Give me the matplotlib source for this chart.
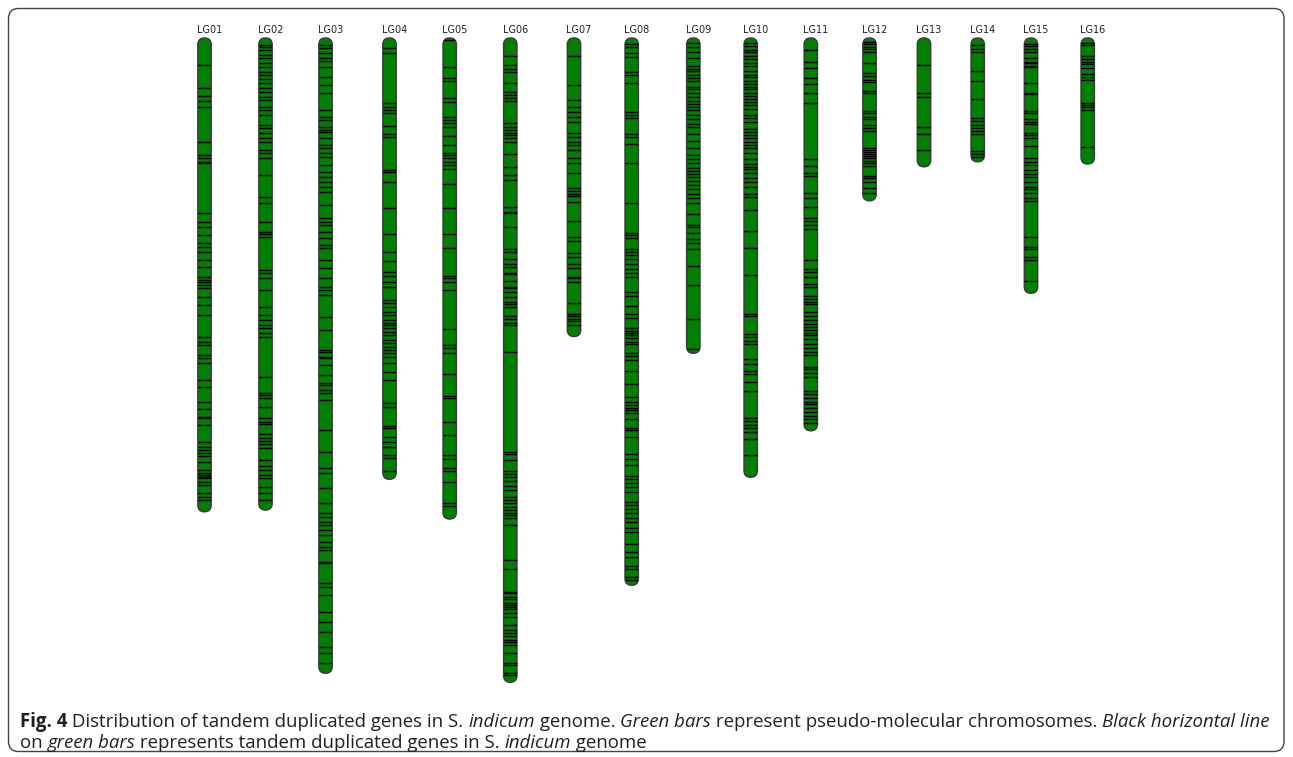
"""
Tandem duplicated gene map for the 16 S. indicum linkage groups.
Green bars = chromosomes, black ticks = tandem duplicated genes.
Output: out.png
"""

import matplotlib
matplotlib.use("Agg")
import matplotlib.pyplot as plt
from matplotlib.patches import FancyBboxPatch

# ---- data (positions in Mb) ----
chromosomes = ["LG01", "LG02", "LG03", "LG04", "LG05", "LG06", "LG07", "LG08",
               "LG09", "LG10", "LG11", "LG12", "LG13", "LG14", "LG15", "LG16"]

chrom_length_mb = [18.95, 18.88, 25.41, 17.65, 19.24, 25.77, 11.94, 21.89,
                   12.61, 17.57, 15.71, 6.51, 5.15, 4.95, 10.21, 5.04]

lg01_genes = [1.08, 2.01, 2.32, 2.52, 2.75, 4.15, 4.68, 4.81, 4.95, 5.01, 7.01, 7.35,
              7.55, 7.88, 8.21, 8.35, 8.55, 8.88, 9.15, 9.55, 9.68, 9.75, 9.88, 10.01,
              10.35, 10.68, 11.08, 11.95, 12.15, 12.28, 12.68, 12.81, 13.01, 13.68,
              13.95, 14.55, 14.85, 15.15, 15.21, 15.48, 16.15, 16.35, 16.48, 16.61,
              16.72, 16.95, 17.28, 17.39, 17.48, 17.55, 17.61, 17.75, 17.88, 18.21,
              18.35, 18.48]
lg02_genes = [0.28, 0.35, 0.48, 0.68, 0.81, 1.01, 1.15, 1.35, 1.48, 1.65, 1.81, 2.01,
              2.15, 2.35, 2.48, 2.75, 2.88, 3.08, 3.48, 3.61, 3.81, 4.01, 4.15, 4.48,
              4.61, 4.81, 5.48, 6.35, 6.61, 7.35, 7.75, 7.84, 7.95, 9.28, 9.41, 9.61,
              10.08, 10.75, 11.08, 11.28, 11.48, 11.61, 11.81, 11.95, 13.55, 14.19,
              14.28, 14.41, 14.75, 15.21, 15.35, 15.44, 15.84, 16.01, 16.11, 16.24,
              16.41, 16.88, 17.12, 17.28, 17.48, 17.61, 17.95, 18.21, 18.48]
lg03_genes = [0.28, 0.41, 0.61, 0.81, 0.91, 1.15, 1.55, 1.88, 2.21, 2.88, 3.15, 3.28,
              3.55, 3.68, 3.75, 4.01, 4.28, 4.41, 4.61, 4.75, 5.08, 5.35, 5.55, 5.75,
              5.95, 6.15, 6.68, 7.21, 7.35, 7.48, 7.75, 8.01, 8.28, 8.41, 8.88, 9.21,
              9.61, 9.95, 10.08, 10.28, 11.15, 11.68, 12.48, 12.55, 12.75, 12.81,
              13.08, 13.48, 13.81, 13.88, 14.08, 14.21, 14.48, 15.68, 16.55, 17.21,
              17.41, 18.01, 18.61, 19.01, 19.15, 19.35, 19.48, 19.68, 19.88, 20.15,
              20.37, 20.48, 20.95, 21.01, 21.81, 21.95, 22.28, 22.95, 23.35, 23.75,
              24.35, 24.61, 25.01]
lg04_genes = [0.41, 0.61, 2.61, 2.77, 2.88, 3.01, 3.52, 3.84, 3.97, 5.28, 5.35, 5.75,
              6.81, 7.84, 8.55, 8.91, 9.35, 9.52, 9.75, 9.97, 10.48, 10.61, 10.77,
              10.95, 11.08, 11.28, 11.39, 11.48, 11.61, 11.75, 11.88, 12.08, 12.21,
              12.35, 12.48, 12.61, 12.75, 13.01, 13.35, 13.68, 14.59, 14.75, 15.52,
              15.61, 15.97, 16.15, 16.37, 16.68, 16.81, 17.31]
lg05_genes = [0.08, 1.15, 1.59, 1.71, 2.41, 2.55, 3.15, 3.28, 3.41, 3.55, 3.92, 4.28,
              4.59, 4.68, 4.81, 4.95, 5.08, 5.25, 5.84, 6.79, 7.84, 8.39, 9.52, 9.61,
              9.75, 10.08, 11.64, 12.28, 12.41, 12.59, 13.44, 14.32, 14.39, 15.35,
              15.88, 16.68, 16.85, 17.21, 17.31, 17.75, 18.61, 18.71]
lg06_genes = [0.72, 1.08, 1.25, 1.35, 1.81, 2.15, 2.28, 2.41, 2.51, 3.39, 3.55, 3.68,
              3.81, 3.88, 4.01, 4.15, 4.64, 5.15, 5.48, 5.68, 6.77, 6.95, 7.01, 7.57,
              8.45, 8.55, 8.85, 9.04, 9.17, 9.39, 9.44, 9.71, 9.95, 10.01, 10.15,
              10.35, 10.55, 10.64, 10.75, 11.12, 11.25, 11.41, 11.48, 12.55, 16.55,
              16.64, 16.88, 17.31, 17.44, 17.55, 17.71, 17.92, 18.08, 18.35, 18.48,
              18.61, 18.75, 18.88, 18.99, 19.08, 19.21, 19.48, 20.88, 21.25, 22.15,
              22.21, 22.37, 22.45, 22.59, 22.68, 22.77, 22.85, 23.01, 23.15, 23.48,
              23.68, 23.79, 23.92, 24.08, 24.15, 24.28, 24.61, 25.01, 25.08, 25.41,
              25.48]
lg07_genes = [0.71, 1.89, 2.47, 2.75, 2.97, 3.14, 3.37, 3.79, 3.97, 4.14, 4.28, 4.47,
              4.79, 4.99, 5.39, 5.99, 6.11, 6.22, 6.32, 6.54, 7.32, 7.97, 8.11, 8.61,
              8.75, 9.04, 9.18, 9.54, 9.61, 9.75, 10.61, 11.04, 11.11, 11.22, 11.32,
              11.47]
lg08_genes = [0.22, 0.37, 0.61, 0.75, 1.37, 1.47, 1.79, 2.97, 3.09, 3.19, 3.82, 3.94,
              4.22, 4.99, 6.61, 7.79, 7.89, 7.99, 8.42, 8.57, 8.68, 8.82, 9.04, 9.22,
              9.39, 9.57, 10.14, 10.32, 10.71, 11.04, 11.18, 11.61, 11.71, 11.79,
              11.89, 11.99, 12.14, 12.25, 12.61, 12.71, 12.89, 13.32, 13.82, 14.37,
              14.54, 14.68, 14.79, 14.89, 14.99, 15.25, 15.61, 15.68, 15.94, 16.65,
              16.82, 17.08, 17.51, 17.65, 17.79, 17.97, 18.14, 18.57, 18.68, 18.82,
              18.99, 19.18, 19.37, 19.61, 19.75, 20.25, 20.54, 20.75, 21.11, 21.25,
              21.54, 21.68]
lg09_genes = [0.18, 0.37, 0.57, 0.79, 1.11, 1.22, 1.32, 1.47, 1.61, 1.71, 1.94, 2.04,
              2.18, 2.37, 2.51, 2.65, 2.75, 2.89, 3.08, 3.22, 3.42, 3.57, 3.82, 4.11,
              4.39, 4.68, 4.82, 4.99, 5.18, 5.32, 5.42, 5.54, 5.71, 5.89, 6.04, 6.22,
              6.39, 6.61, 7.04, 7.47, 7.54, 7.79, 8.04, 8.18, 8.42, 9.11, 9.89, 11.22,
              12.42]
lg10_genes = [0.18, 0.32, 0.47, 0.57, 0.71, 0.82, 0.99, 1.11, 1.32, 1.47, 1.54, 1.71,
              1.82, 1.94, 2.04, 2.18, 2.32, 2.42, 2.54, 2.68, 2.82, 3.08, 3.18, 3.37,
              3.65, 3.75, 3.89, 3.99, 4.14, 4.28, 4.39, 4.61, 4.85, 5.04, 5.14, 5.25,
              5.39, 5.61, 5.75, 5.97, 6.22, 6.37, 6.89, 7.71, 8.39, 9.47, 11.04, 11.11,
              11.82, 11.97, 12.11, 12.22, 12.82, 13.04, 13.32, 13.42, 13.75, 14.11,
              15.18, 15.32, 15.47, 15.61, 15.75, 16.04, 16.68]
lg11_genes = [0.47, 0.97, 1.18, 1.61, 1.82, 2.18, 2.61, 4.82, 5.11, 5.39, 5.51, 6.18,
              6.39, 6.75, 7.18, 7.32, 7.47, 7.65, 8.89, 9.22, 9.37, 9.54, 9.85, 9.97,
              10.32, 10.42, 10.54, 10.65, 10.97, 11.11, 11.28, 11.42, 11.57, 11.68,
              11.79, 11.89, 12.04, 12.22, 12.39, 12.54, 12.68, 13.14, 13.22, 13.39,
              13.57, 14.11, 14.25, 14.39, 14.54, 14.65, 14.79, 14.94, 15.11, 15.22,
              15.39]
lg12_genes = [0.15, 0.24, 0.35, 0.45, 0.55, 0.99, 1.39, 1.52, 1.68, 1.75, 2.11, 2.19,
              2.91, 3.01, 3.17, 3.25, 3.48, 3.61, 3.71, 4.41, 4.48, 4.55, 4.64, 4.72,
              4.81, 4.91, 5.01, 5.12, 5.52, 5.61, 5.75, 6.01, 6.19]
lg13_genes = [1.08, 2.19, 2.37, 3.55, 3.84, 4.48]
lg14_genes = [0.28, 0.45, 0.55, 1.31, 1.71, 2.45, 3.21, 3.31, 3.48, 3.61, 3.71, 3.84,
              4.51, 4.64, 4.77]
lg15_genes = [0.24, 0.32, 0.45, 0.55, 0.81, 0.95, 1.01, 1.12, 1.17, 1.79, 2.19, 2.24,
              2.91, 2.99, 3.25, 3.35, 3.44, 3.79, 3.88, 4.01, 4.32, 4.81, 4.95, 5.08,
              5.28, 5.44, 5.57, 5.75, 5.95, 6.05, 6.19, 6.41, 6.51, 7.97, 8.35, 8.45,
              8.77, 8.88, 9.71]
lg16_genes = [0.19, 0.28, 0.72, 0.85, 0.95, 1.04, 1.21, 1.44, 1.57, 1.68, 2.59, 2.68,
              2.77, 2.88, 4.35]

tandem_genes = [lg01_genes, lg02_genes, lg03_genes, lg04_genes, lg05_genes, lg06_genes,
                lg07_genes, lg08_genes, lg09_genes, lg10_genes, lg11_genes, lg12_genes,
                lg13_genes, lg14_genes, lg15_genes, lg16_genes]

# ---- layout (pixels) ----
W, H, DPI = 1293, 757, 100
BAR_X = [204.5, 265.5, 325.5, 389.5, 449.7, 510.3, 574, 631.7,
         693.3, 750.7, 810.8, 869.5, 924, 977.7, 1031, 1087.7]
BAR_W = 13.3
TOP_PX = 38.0
PX_PER_MB = 25.0
BAR_GREEN = "#008000"
BAR_EDGE = "#3c3c3c"


def draw_chromosome(ax, x, length, genes, name):
    patch = FancyBboxPatch((x - BAR_W / 2, 0), BAR_W, length,
                           boxstyle=f"round,pad=0,rounding_size={BAR_W / 2}",
                           mutation_aspect=1 / PX_PER_MB,
                           facecolor=BAR_GREEN, edgecolor=BAR_EDGE, linewidth=1.1, zorder=2)
    ax.add_patch(patch)
    lines = ax.hlines(genes, x - BAR_W / 2, x + BAR_W / 2, colors="black",
                      linewidth=1.05, zorder=3)
    lines.set_clip_path(patch)
    ax.text(x - BAR_W / 2 - 1, -5 / PX_PER_MB, name, ha="left", va="baseline",
            fontsize=7, color="#222222", family="DejaVu Sans")


def draw_rich_line(ax, x, y, pieces, size, color):
    renderer = ax.figure.canvas.get_renderer()
    for text, style, weight in pieces:
        t = ax.text(x, y, text, ha="left", va="baseline", fontsize=size, color=color,
                    fontstyle=style, fontweight=weight, family="Open Sans")
        bb = t.get_window_extent(renderer=renderer)
        x += bb.width


def main():
    fig = plt.figure(figsize=(W / DPI, H / DPI), dpi=DPI)

    # chart axes: x in pixels, y in Mb (0 = chromosome top)
    ax = fig.add_axes([0, 0, 1, 1])
    ax.set_xlim(0, W)
    ax.set_ylim((H - TOP_PX) / PX_PER_MB, -TOP_PX / PX_PER_MB)
    ax.axis("off")
    for x, name, length, genes in zip(BAR_X, chromosomes, chrom_length_mb, tandem_genes):
        draw_chromosome(ax, x, length, genes, name)

    # frame + caption axes in plain pixel coords
    fax = fig.add_axes([0, 0, 1, 1], zorder=-1)
    fax.set_xlim(0, W)
    fax.set_ylim(H, 0)
    fax.axis("off")
    frame = FancyBboxPatch((8.5, 8.5), W - 17.5, H - 14, boxstyle="round,pad=0,rounding_size=10",
                           facecolor="none", edgecolor="#444444", linewidth=1.0)
    fax.add_patch(frame)

    fig.canvas.draw()
    cap_color = "#231f20"
    line1 = [("Fig. 4", "normal", "bold"),
             (" Distribution of tandem duplicated genes in S. ", "normal", "normal"),
             ("indicum", "italic", "normal"),
             (" genome. ", "normal", "normal"),
             ("Green bars", "italic", "normal"),
             (" represent pseudo-molecular chromosomes. ", "normal", "normal"),
             ("Black horizontal line", "italic", "normal")]
    line2 = [("on ", "normal", "normal"),
             ("green bars", "italic", "normal"),
             (" represents tandem duplicated genes in S. ", "normal", "normal"),
             ("indicum", "italic", "normal"),
             (" genome", "normal", "normal")]
    draw_rich_line(fax, 20, 727, line1, 13.4, cap_color)
    draw_rich_line(fax, 20, 748, line2, 13.4, cap_color)

    fig.savefig("out.png", dpi=DPI)
    plt.close(fig)


if __name__ == "__main__":
    main()
